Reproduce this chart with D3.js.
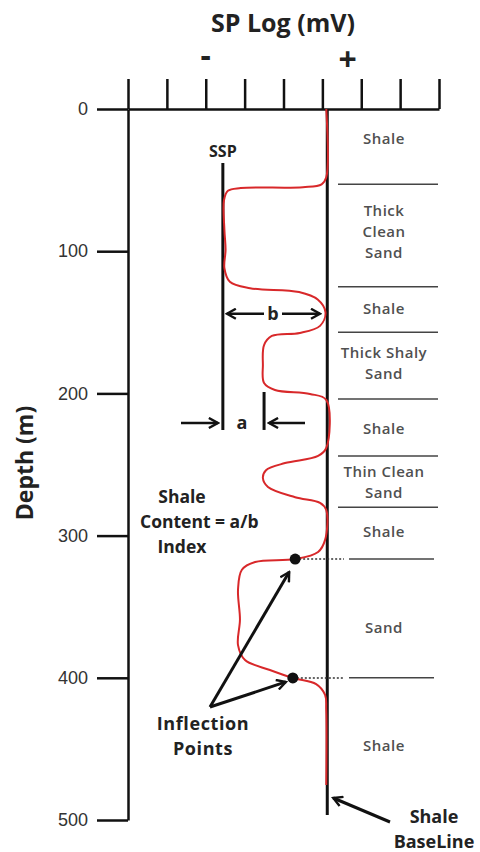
<!DOCTYPE html>
<html>
<head>
<meta charset="utf-8">
<script src="https://cdn.jsdelivr.net/npm/d3@7"></script>
<style>
  html,body{margin:0;padding:0;background:#fff;}
  svg{display:block;}
  .ann{font-family:"Open Sans",sans-serif;font-weight:700;fill:#222;}
  .lay{font-family:"Open Sans",sans-serif;font-weight:600;fill:#505050;letter-spacing:0.5px;}
</style>
</head>
<body>
<svg id="chart" width="480" height="852"></svg>
<script>
// ---------- data ----------
const depthTicks = [0, 100, 200, 300, 400, 500];
const spTicks = [-50, -40, -30, -20, -10, 0, 10, 20, 30];
const shaleBaselineSP = 1;
const sspValue = -25.6;
const shalySandSP = -15;

const curveDepth = [0, 48, 53, 55, 55.6, 57.5, 64, 85, 99, 112, 121.5, 126, 128.7, 134, 143, 152.5, 157.5, 159.6, 166, 180, 192.7, 197.6, 200.4, 204.6, 238.4, 244, 249, 254, 259.5, 265.8, 273, 277, 282, 303, 311.5, 316.5, 318.6, 324, 338, 359, 377, 387.5, 394.5, 400.1, 404.4, 412, 422.6, 475.4];
const curveSP    = [1, 1, -0.2, -5, -21, -24.3, -25.3, -25.2, -24.9, -25.2, -23.8, -18.6, -6, -1.2, 0.8, -0.6, -5.8, -13, -15, -15.3, -15, -12.2, -3.2, 1, 1, -1.1, -9.6, -14.5, -15.3, -14, -7, -0.6, 1, 0.7, -1.1, -7, -17.3, -20.7, -21.7, -21.2, -21.7, -19.9, -13.5, -7.6, -1.6, 0.7, 1, 1];

const layerBoundaries = [53, 125, 157, 204, 244, 280, 316.5, 400];
const layerNames = [["Shale"], ["Thick", "Clean", "Sand"], ["Shale"], ["Thick Shaly", "Sand"], ["Shale"], ["Thin Clean", "Sand"], ["Shale"], ["Sand"], ["Shale"]];
const layerLabelDepth = [21, 86.5, 140.6, 179, 225, 263, 297.5, 365, 448];

const inflectionDepth = [316.5, 400.1];
const inflectionSP = [-7, -7.6];

// ---------- scales ----------
const svg = d3.select("#chart");
svg.append("rect").attr("width", 480).attr("height", 852).attr("fill", "#fff");

const x = d3.scaleLinear().domain([-50, 30]).range([128, 439]);
const y = d3.scaleLinear().domain([0, 500]).range([109, 820]);

const defs = svg.append("defs");
defs.append("marker").attr("id", "arr").attr("viewBox", "0 -6 12 12")
  .attr("refX", 10).attr("refY", 0).attr("markerWidth", 12).attr("markerHeight", 12)
  .attr("markerUnits", "userSpaceOnUse").attr("orient", "auto")
  .append("path").attr("d", "M1,-5L10,0L1,5").attr("fill", "none")
  .attr("stroke", "#111").attr("stroke-width", 2.4);

// ---------- axes ----------
const xAxis = d3.axisTop(x).tickValues(spTicks).tickSize(30).tickSizeOuter(0).tickFormat("");
const gx = svg.append("g").attr("transform", `translate(0,${y(0)})`).call(xAxis);
gx.selectAll("path,line").attr("stroke", "#111").attr("stroke-width", 2.5);

const yAxis = d3.axisLeft(y).tickValues(depthTicks).tickSize(31).tickSizeOuter(0).tickPadding(9);
const gy = svg.append("g").attr("transform", `translate(${x(-50)},0)`).call(yAxis);
gy.selectAll("path,line").attr("stroke", "#111").attr("stroke-width", 2.5);
gy.selectAll("text").attr("font-family", "'Liberation Sans',Arial,sans-serif")
  .attr("font-size", 18).attr("fill", "#333");

// titles
svg.append("text").attr("class", "ann").attr("x", 283).attr("y", 32)
  .attr("text-anchor", "middle").attr("font-size", 25).text("SP Log (mV)");
svg.append("text").attr("class", "ann").attr("x", x(-30)).attr("y", 67)
  .attr("text-anchor", "middle").attr("font-size", 32).text("-");
svg.append("text").attr("class", "ann").attr("x", x(6.5)).attr("y", 71)
  .attr("text-anchor", "middle").attr("font-size", 32).text("+");
svg.append("text").attr("class", "ann").attr("transform", "translate(33,463) rotate(-90)")
  .attr("text-anchor", "middle").attr("font-size", 23).text("Depth (m)");

// ---------- shale baseline ----------
svg.append("line").attr("x1", x(shaleBaselineSP) + 1).attr("x2", x(shaleBaselineSP) + 1)
  .attr("y1", y(0)).attr("y2", 815).attr("stroke", "#111").attr("stroke-width", 3);

// SSP line
svg.append("line").attr("x1", x(sspValue)).attr("x2", x(sspValue))
  .attr("y1", y(38)).attr("y2", y(225.7)).attr("stroke", "#111").attr("stroke-width", 3);
svg.append("text").attr("class", "ann").attr("x", x(sspValue)).attr("y", 157)
  .attr("text-anchor", "middle").attr("font-size", 16).text("SSP");

// ---------- layer boundaries + labels ----------
layerBoundaries.forEach((d, i) => {
  const inflect = inflectionDepth.some(v => Math.abs(v - d) < 1);
  svg.append("line").attr("x1", inflect ? 349 : 338).attr("x2", inflect ? 434 : 438)
    .attr("y1", y(d)).attr("y2", y(d)).attr("stroke", "#444").attr("stroke-width", 1.5);
});
layerNames.forEach((lines, i) => {
  const lh = 21;
  const c = y(layerLabelDepth[i]);
  const t = svg.append("text").attr("class", "lay").attr("font-size", 15).attr("text-anchor", "middle");
  lines.forEach((s, j) => {
    t.append("tspan").attr("x", 384).attr("y", c + 5 + (j - (lines.length - 1) / 2) * lh).text(s);
  });
});

// ---------- dotted lines from inflection points ----------
inflectionDepth.forEach((d, i) => {
  svg.append("line").attr("x1", x(inflectionSP[i])).attr("x2", 344)
    .attr("y1", y(d)).attr("y2", y(d)).attr("stroke", "#333").attr("stroke-width", 1.6)
    .attr("stroke-dasharray", "2,2");
});

// ---------- SP curve ----------
const pts = curveDepth.map((d, i) => [curveSP[i], d]);
const line = d3.line().x(d => x(d[0])).y(d => y(d[1])).curve(d3.curveCatmullRom.alpha(0.5));
svg.append("path").attr("d", line(pts)).attr("fill", "none")
  .attr("stroke", "#d8282a").attr("stroke-width", 2);

// inflection dots
inflectionDepth.forEach((d, i) => {
  svg.append("circle").attr("cx", x(inflectionSP[i])).attr("cy", y(d)).attr("r", 5.5).attr("fill", "#111");
});

// ---------- b arrow ----------
const yb = y(144);
svg.append("line").attr("x1", 264).attr("x2", x(sspValue) + 4).attr("y1", yb).attr("y2", yb)
  .attr("stroke", "#111").attr("stroke-width", 2.5).attr("marker-end", "url(#arr)");
svg.append("line").attr("x1", 282).attr("x2", 320).attr("y1", yb).attr("y2", yb)
  .attr("stroke", "#111").attr("stroke-width", 2.5).attr("marker-end", "url(#arr)");
svg.append("text").attr("class", "ann").attr("x", 273).attr("y", yb + 6)
  .attr("text-anchor", "middle").attr("font-size", 18).text("b");

// ---------- a arrows ----------
const ya = y(220.8);
svg.append("line").attr("x1", x(shalySandSP)).attr("x2", x(shalySandSP))
  .attr("y1", y(199)).attr("y2", y(225.7)).attr("stroke", "#111").attr("stroke-width", 3);
svg.append("line").attr("x1", 181).attr("x2", x(sspValue) - 5).attr("y1", ya).attr("y2", ya)
  .attr("stroke", "#111").attr("stroke-width", 2.5).attr("marker-end", "url(#arr)");
svg.append("line").attr("x1", 305).attr("x2", x(shalySandSP) + 5).attr("y1", ya).attr("y2", ya)
  .attr("stroke", "#111").attr("stroke-width", 2.5).attr("marker-end", "url(#arr)");
svg.append("text").attr("class", "ann").attr("x", 242).attr("y", ya + 6)
  .attr("text-anchor", "middle").attr("font-size", 18).text("a");

// ---------- Shale content index text ----------
const sc = svg.append("text").attr("class", "ann").attr("font-size", 17.5);
sc.append("tspan").attr("x", 182).attr("y", 503).attr("text-anchor", "middle").text("Shale");
sc.append("tspan").attr("x", 140).attr("y", 528).attr("text-anchor", "start").text("Content = a/b");
sc.append("tspan").attr("x", 182).attr("y", 553).attr("text-anchor", "middle").text("Index");

// ---------- Inflection points annotation ----------
const ip = svg.append("text").attr("class", "ann").attr("font-size", 18).attr("text-anchor", "middle")
  .attr("letter-spacing", 0.6);
ip.append("tspan").attr("x", 203).attr("y", 730).text("Inflection");
ip.append("tspan").attr("x", 203).attr("y", 755).text("Points");
const apex = [210, 707];
[[x(inflectionSP[0]) - 6, y(inflectionDepth[0]) + 13], [x(inflectionSP[1]) - 7, y(inflectionDepth[1]) + 4]].forEach(t => {
  svg.append("line").attr("x1", apex[0]).attr("y1", apex[1]).attr("x2", t[0]).attr("y2", t[1])
    .attr("stroke", "#111").attr("stroke-width", 3).attr("marker-end", "url(#arr)");
});

// ---------- Shale baseline annotation ----------
svg.append("line").attr("x1", 390).attr("y1", 822).attr("x2", x(shaleBaselineSP) + 7).attr("y2", 798)
  .attr("stroke", "#111").attr("stroke-width", 3).attr("marker-end", "url(#arr)");
const sb = svg.append("text").attr("class", "ann").attr("font-size", 18).attr("text-anchor", "middle");
sb.append("tspan").attr("x", 434).attr("y", 823).text("Shale");
sb.append("tspan").attr("x", 434).attr("y", 848).text("BaseLine");
</script>
</body>
</html>
